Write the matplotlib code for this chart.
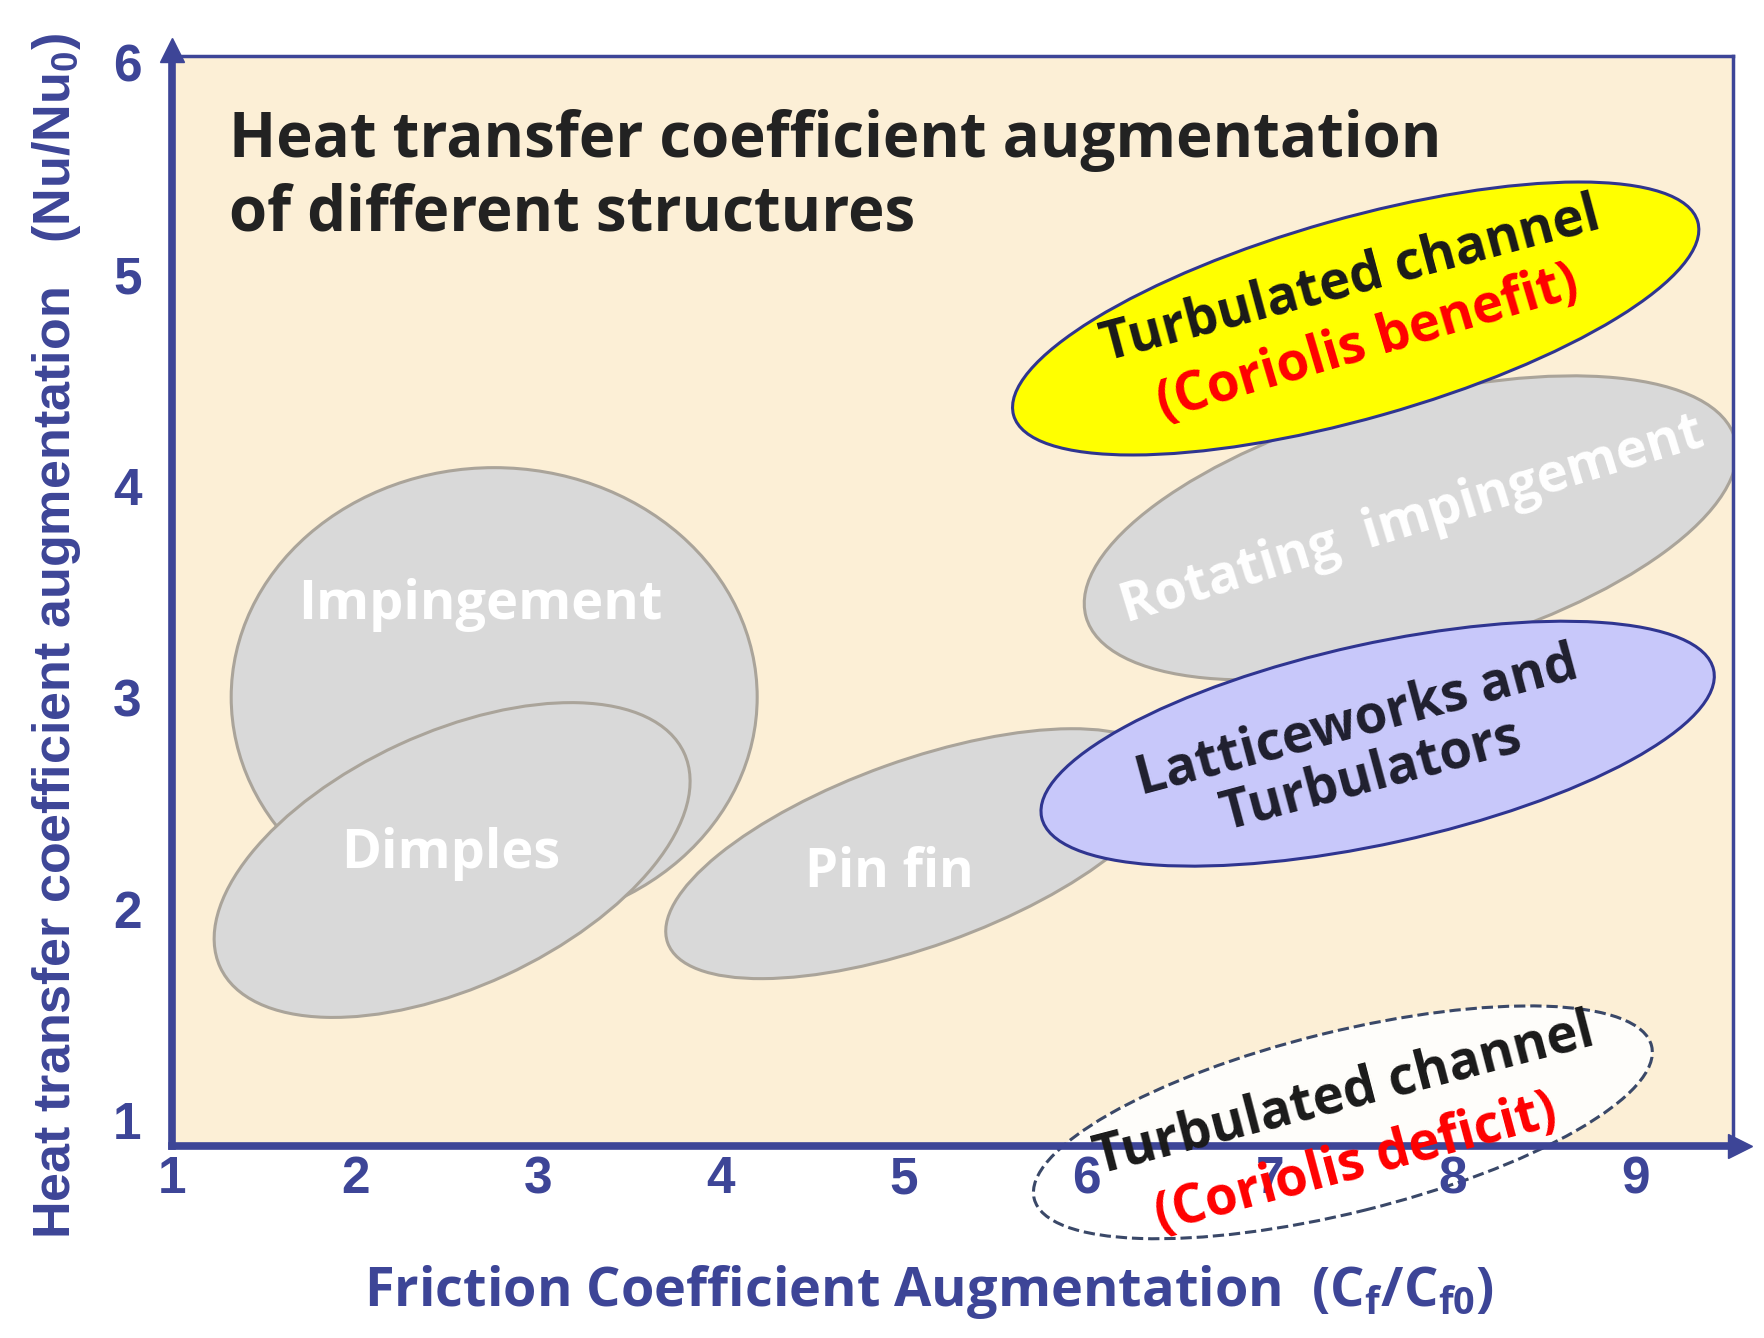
import matplotlib
matplotlib.use('Agg')
import matplotlib.pyplot as plt
from matplotlib.patches import Ellipse
from matplotlib.transforms import ScaledTranslation

# region data: name, centre (Cf/Cf0, Nu/Nu0), size (inches on the page), tilt (deg)
names = ['Impingement', 'Dimples', 'Pin fin', 'Rotating impingement',
         'Latticeworks', 'Turbulated benefit', 'Turbulated deficit']
cx = [2.76, 2.53, 5.07, 7.77, 7.59, 7.47, 7.40]
cy = [3.00, 2.23, 2.26, 3.80, 2.78, 4.79, 0.99]
widths = [5.26, 5.11, 5.29, 6.73, 6.88, 7.11, 6.36]
heights = [4.59, 2.54, 1.86, 2.56, 2.00, 2.00, 1.81]
angles = [0, 24.8, 19.7, 15.3, 12.4, 15.8, 13.9]

x_ticks = [1, 2, 3, 4, 5, 6, 7, 8, 9]
y_ticks = [1, 2, 3, 4, 5, 6]

blue = '#3d4597'
gray_fill = '#d9d9d9'
gray_edge = '#aaa49a'

fills = [gray_fill, gray_fill, gray_fill, gray_fill, '#c8c8fa', '#ffff00', (1, 1, 1, 0.9)]
edges = [gray_edge, gray_edge, gray_edge, gray_edge, '#2f3590', '#2f3590', '#3a4868']
styles = ['-', '-', '-', '-', '-', '-', '--']
zorders = [1.0, 1.1, 1.2, 1.3, 1.5, 1.4, 2.0]

fig = plt.figure(figsize=(17.65, 13.38), dpi=100)
ax = fig.add_axes([0.0976, 0.1438, 0.8845, 0.8142])
ax.set_facecolor('#fcefd6')
ax.set_xlim(1, 9.535)
ax.set_ylim(0.88, 6.03)

for i in range(len(names)):
    tr = fig.dpi_scale_trans + ScaledTranslation(cx[i], cy[i], ax.transData)
    e = Ellipse((0, 0), widths[i], heights[i], angle=angles[i], transform=tr,
                facecolor=fills[i], edgecolor=edges[i], linestyle=styles[i],
                linewidth=2.2, zorder=zorders[i], clip_on=(i != 6))
    ax.add_patch(e)

# axes look
for s in ['left', 'bottom']:
    ax.spines[s].set_color(blue)
    ax.spines[s].set_linewidth(5.5)
for s in ['top', 'right']:
    ax.spines[s].set_color(blue)
    ax.spines[s].set_linewidth(2.5)
ax.plot(1.004, 0, '>', color=blue, ms=17, transform=ax.transAxes, clip_on=False, zorder=3)
ax.plot(0, 1.006, '^', color=blue, ms=17, transform=ax.transAxes, clip_on=False, zorder=3)

ax.set_xticks(x_ticks)
ax.set_yticks(y_ticks)
ax.xaxis.set_zorder(2.6)
ax.tick_params(length=0, colors=blue, labelsize=37)
ax.tick_params(axis='x', pad=7)
ax.tick_params(axis='y', pad=22)
for lab in ax.get_xticklabels() + ax.get_yticklabels():
    lab.set_family('Liberation Sans')
    lab.set_fontweight('bold')

ax.set_xlabel('Friction Coefficient Augmentation  (C$_\\mathregular{f}$/C$_\\mathregular{f0}$)',
              fontsize=39, color=blue, fontweight='bold', family='Open Sans')
ax.xaxis.set_label_coords(0.4845, -0.108)
ax.set_ylabel('Heat transfer coefficient augmentation   (Nu/Nu$_\\mathregular{0}$)',
              fontsize=37.5, color=blue, fontweight='bold', family='Liberation Sans')
ax.yaxis.set_label_coords(-0.057, 0.468)

title_kw = dict(fontsize=44.5, fontweight='bold', family='Open Sans', color='#222222',
                ha='left', va='baseline', zorder=5)
ax.text(1.31, 5.553, 'Heat transfer coefficient augmentation', **title_kw)
ax.text(1.31, 5.207, 'of different structures', **title_kw)

lab_kw = dict(fontweight='bold', family='Open Sans', ha='center', va='center',
              rotation_mode='anchor', zorder=5)
ax.text(2.686, 3.436, 'Impingement', fontsize=39, color='white', **lab_kw)
ax.text(2.52, 2.26, 'Dimples', fontsize=39, color='white', **lab_kw)
ax.text(4.92, 2.17, 'Pin fin', fontsize=38, color='white', **lab_kw)
ax.text(7.78, 3.835, 'Rotating  impingement', fontsize=38, color='white', rotation=17, **lab_kw)
ax.text(7.44, 4.97, 'Turbulated channel', fontsize=38, color='#1a1a1a', rotation=15, **lab_kw)
ax.text(7.535, 4.67, '(Coriolis benefit)', fontsize=38, color='#ff0000', rotation=16.5, **lab_kw)
ax.text(7.517, 2.755, 'Latticeworks and\nTurbulators', fontsize=38, color='#1f1f2e',
        rotation=15, linespacing=1.05, **lab_kw)
ax.text(7.41, 1.12, 'Turbulated channel', fontsize=38, color='#1a1a1a', rotation=14.6, **lab_kw)
ax.text(7.47, 0.79, '(Coriolis deficit)', fontsize=38, color='#ff0000', rotation=15, **lab_kw)

fig.savefig('out.png', dpi=100, facecolor='white')
